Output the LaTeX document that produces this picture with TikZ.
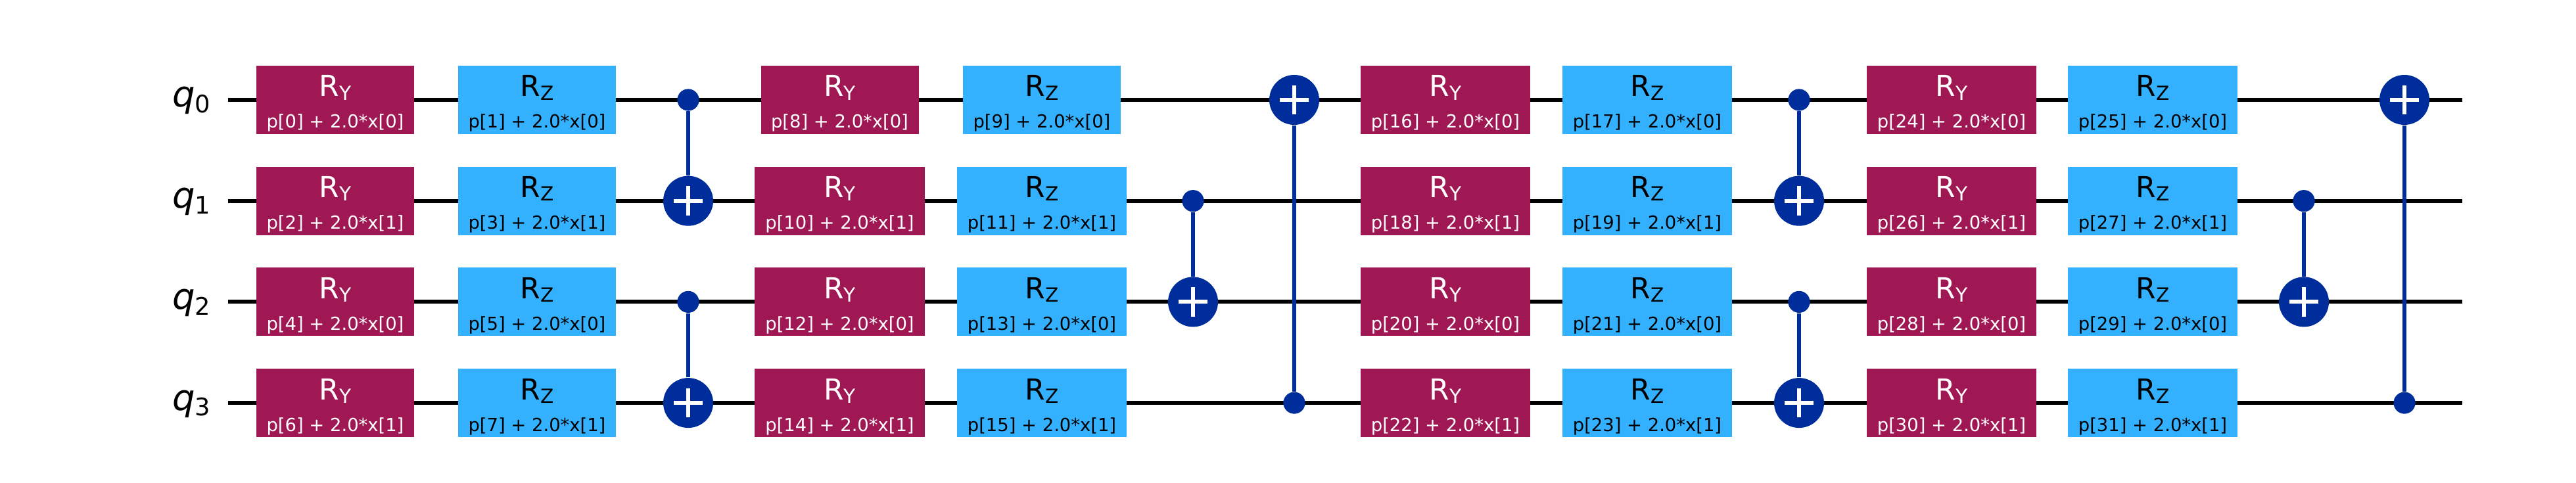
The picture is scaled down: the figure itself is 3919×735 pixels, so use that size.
\documentclass[tikz,border=0pt]{standalone}
\usepackage{fontspec}
\setmainfont{DejaVu Sans}
\usetikzlibrary{positioning}
\definecolor{berry}{HTML}{9F1853}
\definecolor{sky}{HTML}{33B1FF}
\definecolor{cobalt}{HTML}{002D9C}
\newcommand{\gatetext}[2]{\rule{0pt}{10.9pt}\fontsize{11}{10.4}\selectfont R\raisebox{-1.3pt}{\fontsize{7.4}{7}\selectfont #1}\\\fontsize{6.85}{10.4}\selectfont p[#2}
\newcommand{\qubit}[1]{{\fontsize{13.6}{13}\selectfont\itshape q}\raisebox{-2.2pt}{\fontsize{9.2}{9}\selectfont #1}}
\tikzset{
  wire/.style={draw=black,line width=1.5pt},
  gate/.style={rectangle,fill=#1,inner sep=0pt,minimum height=26pt,align=center},
  ry/.style={gate=berry,text=white},
  rz/.style={gate=sky,text=black},
  qlab/.style={inner sep=0pt,anchor=base east},
  link/.style={draw=cobalt,line width=1.6pt},
  ctrl/.style={circle,fill=cobalt,inner sep=0pt,minimum size=8.3pt},
  targ/.style={circle,fill=cobalt,inner sep=0pt,minimum size=19pt,
    path picture={\draw[white,line width=1.5pt]
      ([xshift=-5.6pt]path picture bounding box.center) -- ([xshift=5.6pt]path picture bounding box.center)
      ([yshift=-5.6pt]path picture bounding box.center) -- ([yshift=5.6pt]path picture bounding box.center);}},
}
\begin{document}
\begin{tikzpicture}[x=0.25pt,y=-0.25pt]
  \useasboundingbox (0,0) rectangle (3919,735);
  % wires
  \foreach \r in {0,...,3} {
    \pgfmathsetmacro\wy{152+153.7*\r}
    \coordinate (s\r) at (347,\wy);
    \coordinate (e\r) at (3746,\wy);
    \node[qlab] (q\r) at (321,\wy+11) {\qubit{\r}};
    \draw[wire] (s\r) -- (e\r);
  }
  % rotation gates
  \foreach \xa/\xb/\base in {510/817/0,1277.5/1585/8,2199/2506/16,2969/3275/24}
    \foreach \r/\v in {0/0,1/1,2/0,3/1} {
      \pgfmathsetmacro\wy{152+153.7*\r}
      \pgfmathtruncatemacro\ka{\base+2*\r}
      \pgfmathtruncatemacro\kb{\base+2*\r+1}
      \pgfmathsetmacro\wa{\ka<10?60:64.7}
      \pgfmathsetmacro\wb{\kb<10?60:64.7}
      \node[ry,minimum width=\wa pt] (g\ka) at (\xa,\wy) {\gatetext{Y}{\ka] + 2.0*x[\v]}};
      \node[rz,minimum width=\wb pt] (g\kb) at (\xb,\wy) {\gatetext{Z}{\kb] + 2.0*x[\v]}};
    }
  % cnots
  \foreach \n/\x/\c/\t in {a/1047/0/1,b/1047/2/3,c/1815/1/2,d/1969/3/0,
    f/2737/0/1,g/2737/2/3,h/3505/1/2,i/3658/3/0} {
    \pgfmathsetmacro\cy{152+153.7*\c}
    \pgfmathsetmacro\ty{152+153.7*\t}
    \node[ctrl] (c\n) at (\x,\cy) {};
    \node[targ] (t\n) at (\x,\ty) {};
    \draw[link] (c\n) -- (t\n);
  }
\end{tikzpicture}
\end{document}
